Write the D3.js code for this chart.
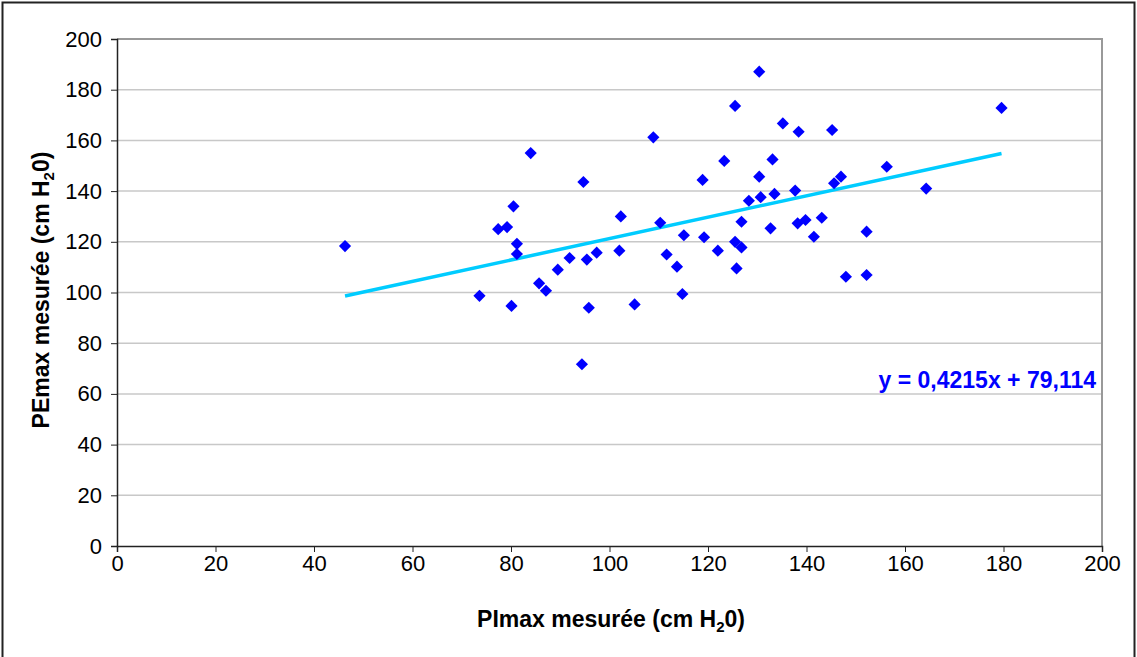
<!DOCTYPE html>
<html>
<head>
<meta charset="utf-8">
<script src="https://cdn.jsdelivr.net/npm/d3@7"></script>
<style>
  body { margin: 0; background: #fff; }
  svg { display: block; font-family: "Liberation Sans", Arial, sans-serif; }
</style>
</head>
<body>
<div id="viz"></div>
<script>
// PImax (x) vs PEmax (y), cm H20
var pimax = [46.3, 73.6, 77.4, 79.2, 80.5, 81.2, 81.2, 80.1, 84.0, 94.7,
  85.7, 87.1, 89.5, 91.9, 95.4, 97.4, 95.8, 94.4, 130.4, 125.5,
  135.2, 138.4, 145.2, 108.9, 123.3, 133.1, 118.9, 130.4, 147.0, 145.6,
  128.3, 130.7, 133.5, 137.7, 102.3, 110.3, 126.8, 132.7, 138.2, 139.8,
  143.1, 152.2, 115.1, 119.2, 141.5, 125.5, 126.8, 122.0, 102.0, 111.6,
  113.7, 125.8, 148.0, 152.2, 114.8, 105.1, 179.6, 156.3, 164.3]
var pemax = [118.3, 98.7, 125.0, 125.8, 134.0, 119.2, 115.2, 94.7, 155.0, 143.6,
  103.6, 100.7, 109.0, 113.6, 113.0, 115.7, 94.0, 71.7, 187.1, 173.6,
  166.7, 163.4, 164.1, 161.2, 151.9, 152.5, 144.4, 145.7, 145.7, 143.1,
  136.2, 137.6, 138.9, 140.2, 130.0, 127.5, 127.9, 125.3, 127.3, 128.6,
  129.5, 124.0, 122.6, 121.8, 122.0, 120.0, 117.8, 116.5, 116.5, 115.0,
  110.2, 109.5, 106.2, 106.9, 99.4, 95.3, 172.8, 149.6, 141.0]
var slope = 0.4215
var intercept = 79.114
var xTicks = [0, 20, 40, 60, 80, 100, 120, 140, 160, 180, 200]
var yTicks = [0, 20, 40, 60, 80, 100, 120, 140, 160, 180, 200]

var W = 1137, H = 657
var mLeft = 117, mRight = 1102, mTop = 39, mBottom = 546

var svg = d3.select("#viz").append("svg")
  .attr("width", W).attr("height", H)

// outer frame
svg.append("rect")
  .attr("x", 2.5).attr("y", 2.5)
  .attr("width", 1132).attr("height", 670)
  .attr("fill", "none").attr("stroke", "#222").attr("stroke-width", 2)

var x = d3.scaleLinear().domain([0, 200]).range([mLeft, mRight])
var y = d3.scaleLinear().domain([0, 200]).range([mBottom, mTop])

// gridlines
svg.append("g").selectAll("line")
  .data(yTicks.filter(d => d > 0 && d < 200))
  .enter().append("line")
  .attr("x1", mLeft).attr("x2", mRight)
  .attr("y1", d => y(d)).attr("y2", d => y(d))
  .attr("stroke", "#c8c8c8").attr("stroke-width", 1.5)

// top and right plot border (grey)
svg.append("path")
  .attr("d", "M" + mLeft + "," + mTop + "H" + mRight + "V" + mBottom)
  .attr("fill", "none").attr("stroke", "#999").attr("stroke-width", 2)

// axes
svg.append("g")
  .attr("transform", "translate(0," + mBottom + ")")
  .call(d3.axisBottom(x).tickValues(xTicks).tickSize(6).tickPadding(3))
svg.append("g")
  .attr("transform", "translate(" + mLeft + ",0)")
  .call(d3.axisLeft(y).tickValues(yTicks).tickSize(6).tickPadding(9))

svg.selectAll(".domain").attr("stroke", "#222").attr("stroke-width", 1.5)
svg.selectAll(".tick line").attr("stroke", "#222")
svg.selectAll(".tick text")
  .style("font-size", "22px").style("fill", "#000")
  .style("font-family", "'Liberation Sans', Arial, sans-serif")

// trend line
var xMin = d3.min(pimax), xMax = d3.max(pimax)
svg.append("line")
  .attr("x1", x(xMin)).attr("y1", y(slope * xMin + intercept))
  .attr("x2", x(xMax)).attr("y2", y(slope * xMax + intercept))
  .attr("stroke", "#00CCFF").attr("stroke-width", 3.5)

// points
svg.append("g").selectAll("path")
  .data(pimax.map((d, i) => [d, pemax[i]]))
  .enter().append("path")
  .attr("d", d3.symbol().type(d3.symbolSquare).size(74))
  .attr("transform", d => "translate(" + x(d[0]) + "," + y(d[1]) + ") rotate(45)")
  .attr("fill", "#0000FF")

// equation
svg.append("text")
  .attr("x", 1096).attr("y", 388)
  .attr("text-anchor", "end")
  .style("font-size", "23px").style("font-weight", "bold")
  .style("fill", "#0000FF")
  .text("y = 0,4215x + 79,114")

// axis titles
var xt = svg.append("text")
  .attr("x", 611).attr("y", 627)
  .attr("text-anchor", "middle")
  .style("font-size", "23px").style("font-weight", "bold")
xt.append("tspan").text("PImax mesurée (cm H")
xt.append("tspan").attr("dy", 5).style("font-size", "15px").text("2")
xt.append("tspan").attr("dy", -5).text("0)")

var yt = svg.append("text")
  .attr("transform", "translate(49,290) rotate(-90)")
  .attr("text-anchor", "middle")
  .style("font-size", "23px").style("font-weight", "bold")
yt.append("tspan").text("PEmax mesurée (cm H")
yt.append("tspan").attr("dy", 5).style("font-size", "15px").text("2")
yt.append("tspan").attr("dy", -5).text("0)")
</script>
</body>
</html>
